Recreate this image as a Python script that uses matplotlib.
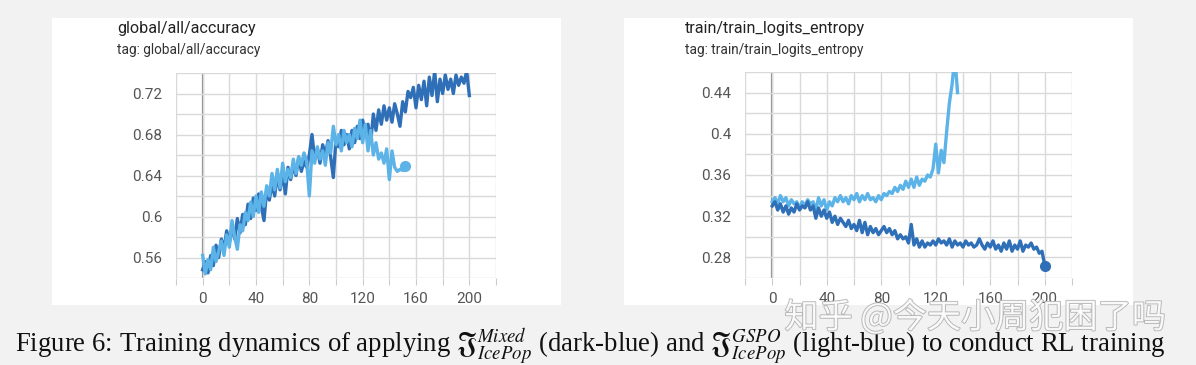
import numpy as np
import matplotlib.pyplot as plt
import matplotlib.patheffects as pe
from matplotlib.patches import Rectangle

# ---- data (one value every 2 steps) ----
acc_dark = [0.548, 0.556, 0.545, 0.562, 0.552, 0.572, 0.560, 0.578, 0.568, 0.586,
            0.574, 0.590, 0.578, 0.598, 0.584, 0.602, 0.592, 0.612, 0.598, 0.618,
            0.606, 0.622, 0.610, 0.596, 0.626, 0.616, 0.632, 0.620, 0.640, 0.626,
            0.642, 0.622, 0.648, 0.636, 0.650, 0.640, 0.658, 0.644, 0.654, 0.648,
            0.660, 0.680, 0.656, 0.666, 0.652, 0.670, 0.660, 0.674, 0.658, 0.638,
            0.676, 0.668, 0.684, 0.670, 0.680, 0.666, 0.684, 0.672, 0.688, 0.676,
            0.694, 0.680, 0.690, 0.672, 0.700, 0.684, 0.704, 0.690, 0.708, 0.694,
            0.706, 0.692, 0.710, 0.700, 0.688, 0.712, 0.702, 0.722, 0.716, 0.726,
            0.706, 0.728, 0.714, 0.732, 0.708, 0.736, 0.718, 0.742, 0.712, 0.734,
            0.720, 0.738, 0.724, 0.734, 0.720, 0.738, 0.728, 0.736, 0.730, 0.742,
            0.718]
acc_light = [0.562, 0.544, 0.558, 0.548, 0.570, 0.556, 0.566, 0.576, 0.562, 0.582,
             0.570, 0.596, 0.580, 0.568, 0.592, 0.586, 0.604, 0.596, 0.614, 0.600,
             0.620, 0.604, 0.624, 0.610, 0.630, 0.620, 0.642, 0.626, 0.646, 0.628,
             0.652, 0.634, 0.646, 0.638, 0.656, 0.642, 0.658, 0.650, 0.662, 0.654,
             0.620, 0.664, 0.652, 0.668, 0.656, 0.664, 0.650, 0.672, 0.662, 0.688,
             0.670, 0.680, 0.664, 0.684, 0.672, 0.680, 0.668, 0.686, 0.676, 0.694,
             0.672, 0.690, 0.664, 0.684, 0.660, 0.672, 0.656, 0.662, 0.652, 0.666,
             0.636, 0.664, 0.648, 0.644, 0.646, 0.645, 0.649]
ent_dark = [0.330, 0.334, 0.326, 0.332, 0.324, 0.330, 0.322, 0.328, 0.324, 0.332,
            0.326, 0.330, 0.328, 0.334, 0.326, 0.330, 0.318, 0.328, 0.320, 0.326,
            0.318, 0.324, 0.314, 0.320, 0.312, 0.318, 0.314, 0.310, 0.316, 0.308,
            0.312, 0.306, 0.316, 0.304, 0.314, 0.302, 0.310, 0.304, 0.308, 0.302,
            0.306, 0.310, 0.304, 0.308, 0.302, 0.306, 0.298, 0.302, 0.298, 0.300,
            0.294, 0.312, 0.292, 0.298, 0.290, 0.296, 0.290, 0.294, 0.292, 0.296,
            0.292, 0.298, 0.294, 0.296, 0.292, 0.298, 0.290, 0.296, 0.292, 0.294,
            0.290, 0.296, 0.292, 0.294, 0.290, 0.292, 0.298, 0.292, 0.288, 0.294,
            0.290, 0.296, 0.288, 0.292, 0.286, 0.294, 0.288, 0.296, 0.286, 0.292,
            0.288, 0.296, 0.286, 0.292, 0.290, 0.294, 0.288, 0.290, 0.284, 0.286,
            0.272]
ent_light = [0.334, 0.338, 0.332, 0.340, 0.334, 0.338, 0.330, 0.336, 0.332, 0.334,
             0.328, 0.334, 0.330, 0.336, 0.332, 0.334, 0.326, 0.338, 0.330, 0.336,
             0.326, 0.334, 0.330, 0.338, 0.334, 0.340, 0.334, 0.338, 0.332, 0.340,
             0.336, 0.342, 0.334, 0.340, 0.336, 0.342, 0.336, 0.338, 0.334, 0.340,
             0.336, 0.342, 0.340, 0.344, 0.342, 0.348, 0.344, 0.350, 0.346, 0.354,
             0.348, 0.356, 0.348, 0.358, 0.350, 0.356, 0.354, 0.360, 0.358, 0.366,
             0.390, 0.362, 0.384, 0.372, 0.402, 0.430, 0.448, 0.475, 0.440]

step = 2
x_ticks = [0, 40, 80, 120, 160, 200]
acc_ticks = [0.56, 0.6, 0.64, 0.68, 0.72]
ent_ticks = [0.28, 0.32, 0.36, 0.4, 0.44]

DARK = '#2f6fb7'
LIGHT = '#5cb3e8'
W, H = 1196, 365

plt.rcParams['mathtext.fontset'] = 'stix'

fig = plt.figure(figsize=(W / 100, H / 100), dpi=100)
fig.patch.set_facecolor('#f2f2f2')


def px_rect(x0, y0, x1, y1):
    # pixel box (top-left origin) -> figure fraction
    return [x0 / W, 1 - y1 / H, (x1 - x0) / W, (y1 - y0) / H]


def panel(box, title, ax_box, ylim, yticks, series):
    l, b, w, h = px_rect(*box)
    fig.patches.append(Rectangle((l, b), w, h, transform=fig.transFigure,
                                 facecolor='white', edgecolor='none', zorder=-5))
    tx = box[0] + (65 if box[0] < 600 else 61)
    fig.text(tx / W, 1 - 33 / H, title, fontsize=11.6, family='Roboto',
             color='#222222', va='baseline')
    fig.text(tx / W, 1 - 54 / H, 'tag: ' + title, fontsize=9.8, family='Roboto',
             color='#333333', va='baseline')

    ax = fig.add_axes(px_rect(*ax_box))
    ax.set_facecolor('white')
    ax.set_xlim(-20, 220)
    ax.set_ylim(*ylim)
    grid_x = np.arange(-20, 221, 20)
    grid_y = np.arange(ylim[0], ylim[1] + 1e-9, 0.02)
    ax.set_xticks(grid_x)
    ax.set_yticks(grid_y)
    ax.grid(True, color='#d9d9d9', linewidth=1.0)
    for s in ax.spines.values():
        s.set_visible(False)
    ax.axvline(0, color='#8a8a8a', linewidth=1.6, zorder=1)

    ax.set_xticklabels([str(t) if t in x_ticks else '' for t in grid_x])
    ylab = []
    for t in grid_y:
        m = [v for v in yticks if abs(v - t) < 1e-6]
        ylab.append(('%g' % m[0]) if m else '')
    ax.set_yticklabels(ylab)
    ax.tick_params(axis='x', length=5, color='#cccccc', labelsize=11,
                   labelcolor='#555555', pad=5)
    ax.tick_params(axis='y', length=0, labelsize=11, labelcolor='#555555', pad=10)
    for lab in ax.get_xticklabels() + ax.get_yticklabels():
        lab.set_family('Roboto')

    for vals, color, marker in series:
        xs = np.arange(len(vals)) * step
        ax.plot(xs, vals, color=color, linewidth=2.4, solid_joinstyle='round', zorder=3)
        if marker:
            ax.plot(xs[-1], vals[-1], 'o', color=color, markersize=7, zorder=4,
                    clip_on=False)
    return ax


panel((52, 18, 561, 305), 'global/all/accuracy', (176, 73, 496, 278),
      (0.54, 0.74), acc_ticks,
      [(acc_dark, DARK, False), (acc_light, LIGHT, True)])
panel((624, 18, 1133, 305), 'train/train_logits_entropy', (745, 72, 1072, 278),
      (0.26, 0.46), ent_ticks,
      [(ent_light, LIGHT, False), (ent_dark, DARK, True)])

# caption
fig.text(15 / W, 1 - 352 / H,
         r'Figure 6: Training dynamics of applying $\mathfrak{J}^{Mixed}_{IcePop}$ (dark-blue) '
         r'and $\mathfrak{J}^{GSPO}_{IcePop}$ (light-blue) to conduct RL training',
         fontsize=19.3, family='Liberation Serif', color='#111111', va='baseline')

# watermark
fig.text(975 / W, 1 - 318 / H, '知乎 @今天小周犯困了吗', fontsize=24.6,
         family=['Noto Sans CJK SC', 'DejaVu Sans'], color='white', alpha=0.85,
         ha='center', va='center',
         path_effects=[pe.withStroke(linewidth=1.2, foreground='#a8a8a8')])

fig.savefig('out.png', dpi=100, facecolor=fig.get_facecolor())
